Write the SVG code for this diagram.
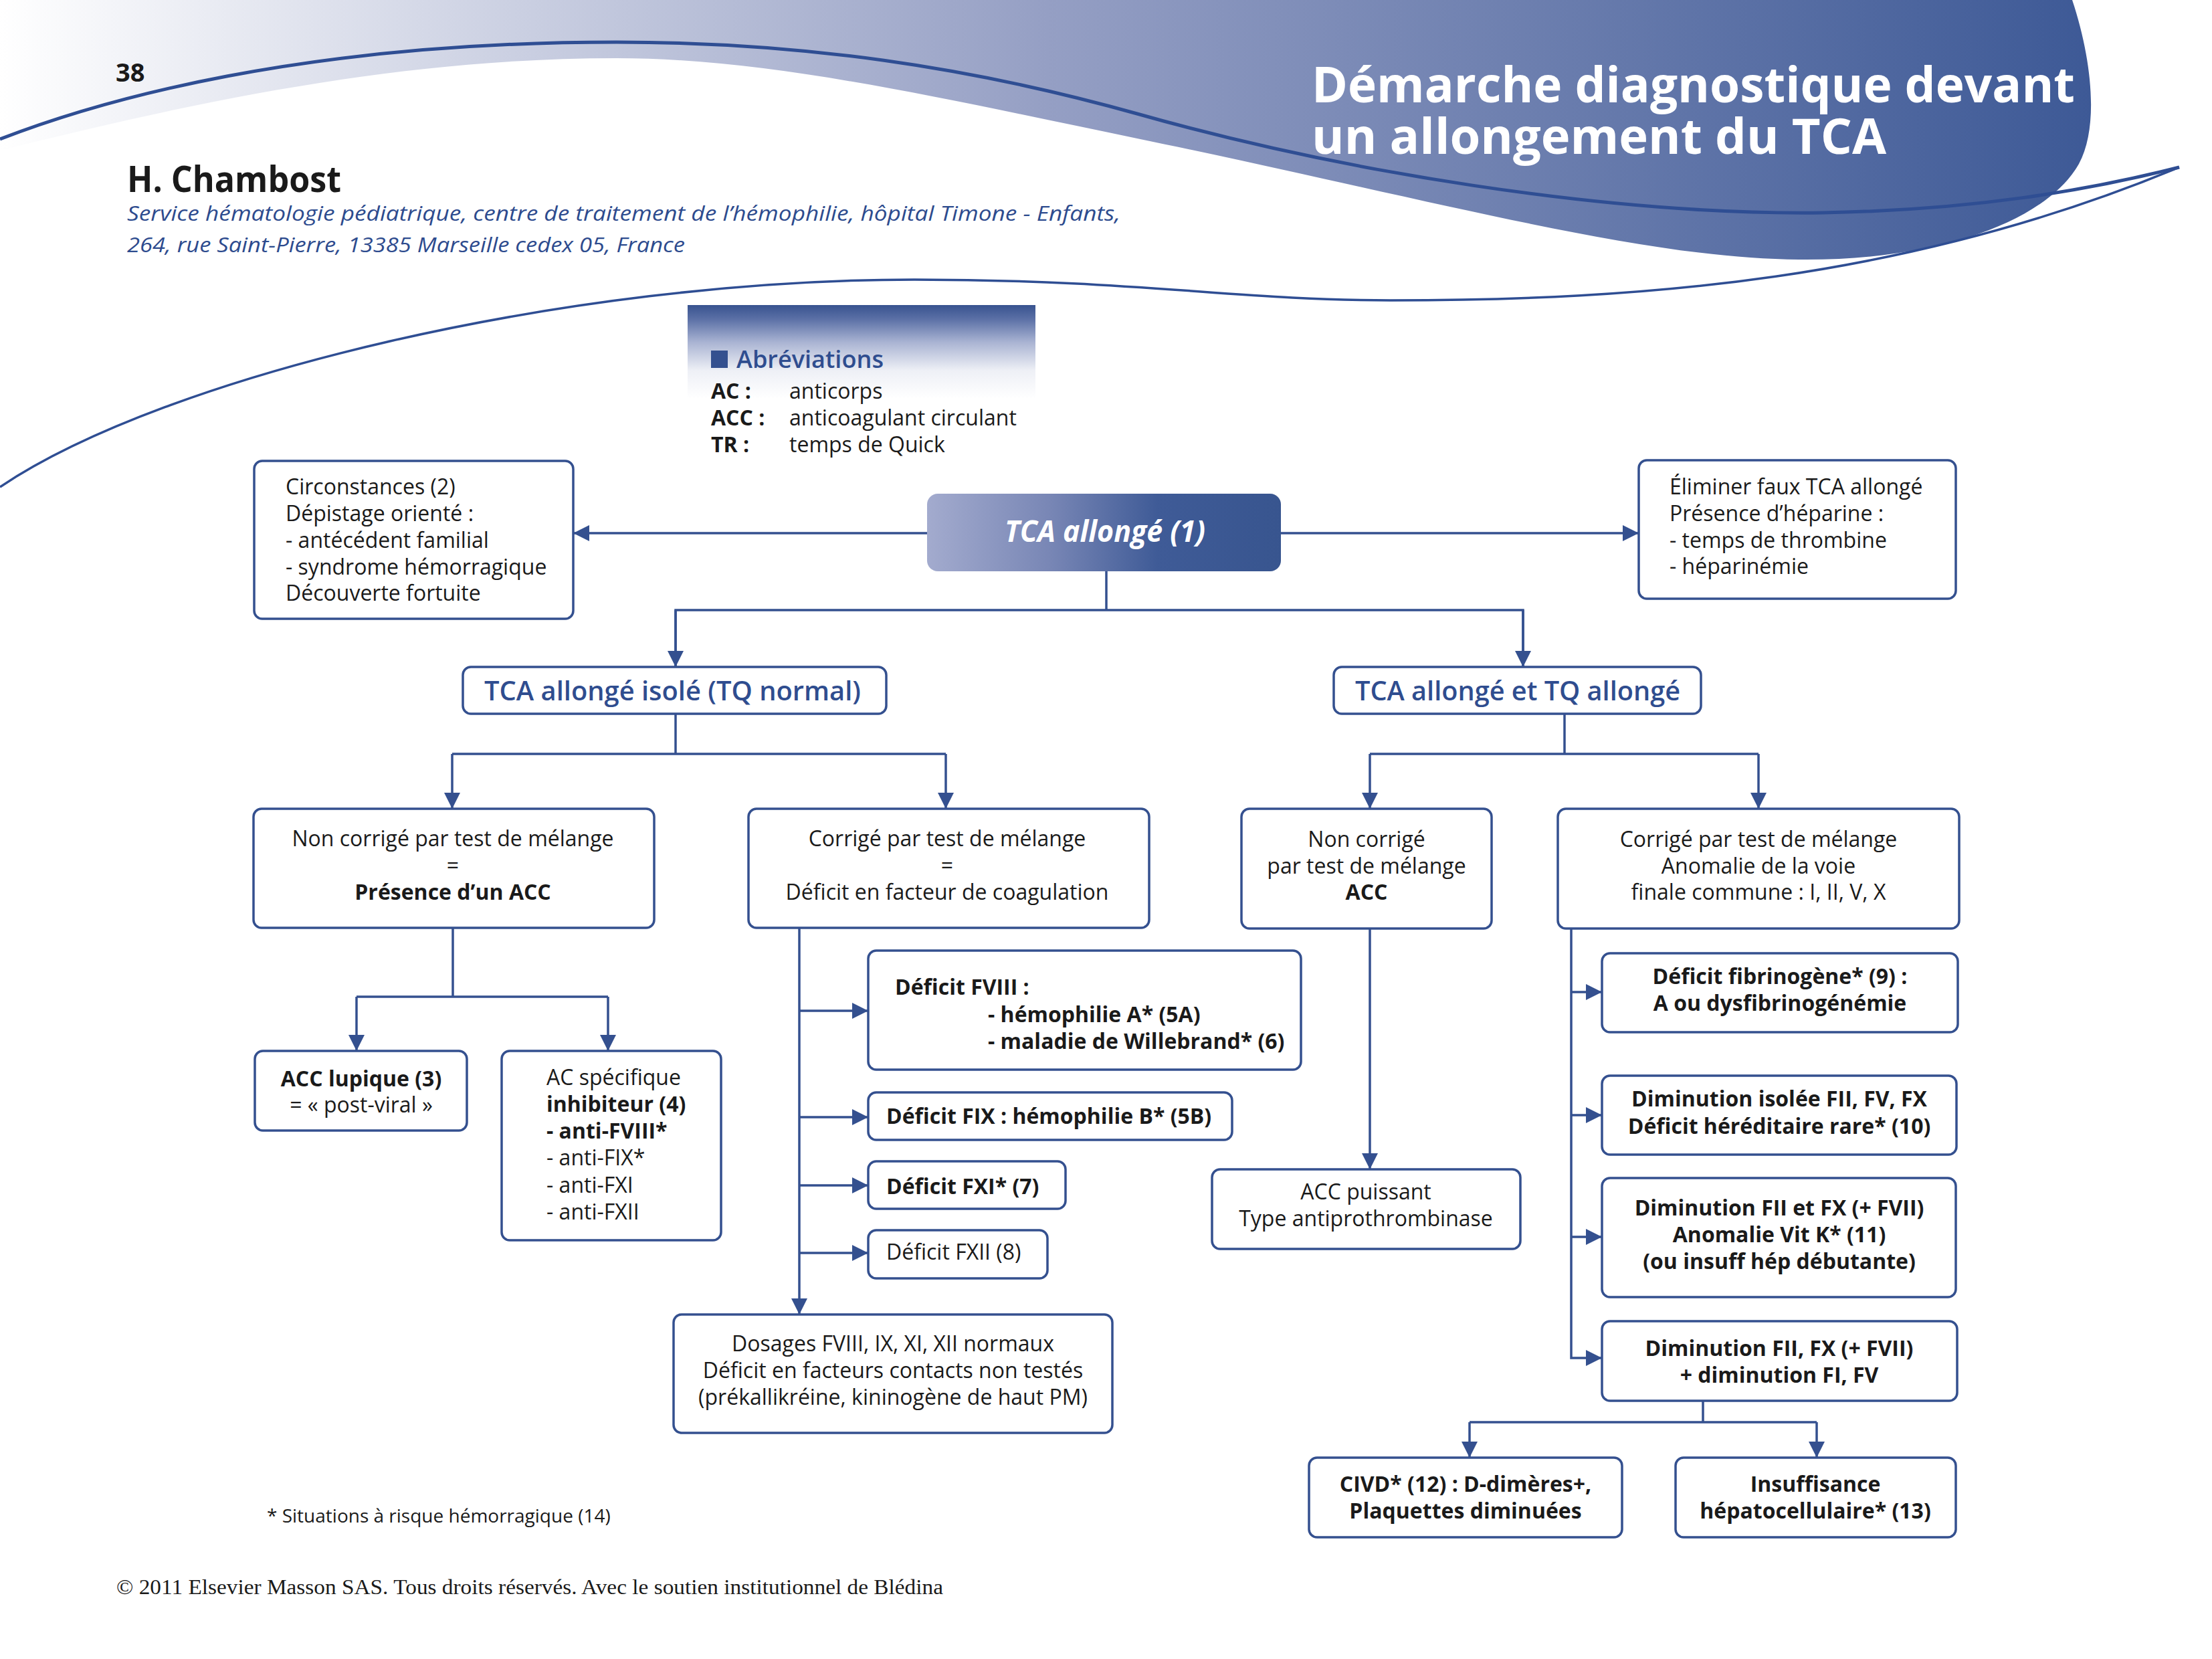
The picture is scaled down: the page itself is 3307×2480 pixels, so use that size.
<svg xmlns="http://www.w3.org/2000/svg" width="3307" height="2480" viewBox="0 0 3307 2480">
<defs>
<linearGradient id="gBlob" x1="0" y1="0" x2="3130" y2="0" gradientUnits="userSpaceOnUse">
<stop offset="0" stop-color="#ffffff"/>
<stop offset="0.5" stop-color="#959fc4"/>
<stop offset="1" stop-color="#3d5996"/>
</linearGradient>
<linearGradient id="gCenter" x1="0" y1="0" x2="1" y2="0">
<stop offset="0" stop-color="#a3abce"/>
<stop offset="0.35" stop-color="#7886b5"/>
<stop offset="0.65" stop-color="#3f5b97"/>
<stop offset="1" stop-color="#38558f"/>
</linearGradient>
<linearGradient id="gAbbr" x1="0" y1="0" x2="0" y2="1">
<stop offset="0" stop-color="#38538f"/>
<stop offset="0.15" stop-color="#5b70a6"/>
<stop offset="0.4" stop-color="#aab4d3"/>
<stop offset="0.7" stop-color="#eef0f6"/>
<stop offset="1" stop-color="#ffffff"/>
</linearGradient>
<marker id="ah" viewBox="0 0 24 24" refX="24" refY="12" markerWidth="24" markerHeight="24" orient="auto" markerUnits="userSpaceOnUse">
<path d="M0,0 L24,12 L0,24 z" fill="#34508f"/>
</marker>
<style>
.box{fill:#ffffff;stroke:#34508f;stroke-width:3.5}
.t{font-family:"Open Sans","Noto Sans","Liberation Sans",sans-serif;font-size:32px;fill:#1a1a1a}
.b{font-weight:700}
.c{text-anchor:middle}
.blue{fill:#2f4d8f}
.conn{stroke:#34508f;stroke-width:3.5;fill:none}
.arr{marker-end:url(#ah)}
</style>
</defs>

<g id="header">
<path d="M0,0 L3098,0 C3128,90 3138,190 3108,245 C3060,330 2900,390 2690,388 C2450,386 2150,300 1700,207 C1400,145 1150,87 922,87 C600,87 300,150 0,225 Z" fill="url(#gBlob)"/>
<path d="M0,208 C150,150 450,63 922,63 C1200,63 1450,100 1700,170 C2000,255 2400,322 2725,318 C2950,314 3120,285 3258,250" fill="none" stroke="#2f4e93" stroke-width="5"/>
<path d="M0,728 C250,560 850,418 1367,418 C1700,418 1850,449 2079,449 C2450,449 2850,420 3258,250" fill="none" stroke="#2f4e93" stroke-width="3.5"/>
<text class="t b" x="173" y="122" style="font-size:38px">38</text>
<text class="t b" style="font-size:74px;fill:#ffffff"><tspan x="1961" y="153" textLength="1141" lengthAdjust="spacingAndGlyphs">Démarche diagnostique devant</tspan><tspan x="1961" y="230" textLength="859" lengthAdjust="spacingAndGlyphs">un allongement du TCA</tspan></text>
<text class="t b" x="190" y="287" style="font-size:54px" textLength="320" lengthAdjust="spacingAndGlyphs">H. Chambost</text>
<text class="t" x="190" y="330" style="font-size:31px;font-style:italic;fill:#2d4b8e" textLength="1485" lengthAdjust="spacingAndGlyphs">Service hématologie pédiatrique, centre de traitement de l’hémophilie, hôpital Timone - Enfants,</text>
<text class="t" x="190" y="377" style="font-size:31px;font-style:italic;fill:#2d4b8e" textLength="834" lengthAdjust="spacingAndGlyphs">264, rue Saint-Pierre, 13385 Marseille cedex 05, France</text>
</g>

<g id="abbreviations">
<rect x="1028" y="456" width="520" height="140" fill="url(#gAbbr)"/>
<rect x="1063" y="524" width="25" height="26" fill="#34508f"/>
<text class="t blue" x="1101" y="550" style="font-size:36px;font-weight:600" textLength="220" lengthAdjust="spacingAndGlyphs">Abréviations</text>
<text class="t b" x="1063" y="596">AC :</text>
<text class="t" x="1180" y="596">anticorps</text>
<text class="t b" x="1063" y="636">ACC :</text>
<text class="t" x="1180" y="636">anticoagulant circulant</text>
<text class="t b" x="1063" y="676">TR :</text>
<text class="t" x="1180" y="676">temps de Quick</text>
</g>

<g id="connectors">
<line class="conn arr" x1="1386" y1="797" x2="857" y2="797"/>
<line class="conn arr" x1="1915" y1="797" x2="2450" y2="797"/>
<polyline class="conn" points="1654,854 1654,912"/>
<polyline class="conn" points="1010,997 1010,912 2277,912 2277,997"/>
<line class="conn arr" x1="1010" y1="912" x2="1010" y2="997"/>
<line class="conn arr" x1="2277" y1="912" x2="2277" y2="997"/>
<polyline class="conn" points="1010,1067 1010,1127"/>
<polyline class="conn" points="676,1127 1414,1127"/>
<line class="conn arr" x1="676" y1="1127" x2="676" y2="1209"/>
<line class="conn arr" x1="1414" y1="1127" x2="1414" y2="1209"/>
<polyline class="conn" points="2339,1067 2339,1127"/>
<polyline class="conn" points="2048,1127 2629,1127"/>
<line class="conn arr" x1="2048" y1="1127" x2="2048" y2="1209"/>
<line class="conn arr" x1="2629" y1="1127" x2="2629" y2="1209"/>
<polyline class="conn" points="677,1387 677,1490"/>
<polyline class="conn" points="533,1490 909,1490"/>
<line class="conn arr" x1="533" y1="1490" x2="533" y2="1571"/>
<line class="conn arr" x1="909" y1="1490" x2="909" y2="1571"/>
<line class="conn arr" x1="1195" y1="1387" x2="1195" y2="1965"/>
<line class="conn arr" x1="1195" y1="1511" x2="1298" y2="1511"/>
<line class="conn arr" x1="1195" y1="1670" x2="1298" y2="1670"/>
<line class="conn arr" x1="1195" y1="1772" x2="1298" y2="1772"/>
<line class="conn arr" x1="1195" y1="1873" x2="1298" y2="1873"/>
<line class="conn arr" x1="2048" y1="1388" x2="2048" y2="1748"/>
<polyline class="conn arr" points="2349,1388 2349,2030 2395,2030"/>
<line class="conn arr" x1="2349" y1="1483" x2="2395" y2="1483"/>
<line class="conn arr" x1="2349" y1="1667" x2="2395" y2="1667"/>
<line class="conn arr" x1="2349" y1="1849" x2="2395" y2="1849"/>
<polyline class="conn" points="2546,2094 2546,2126"/>
<polyline class="conn" points="2197,2126 2716,2126"/>
<line class="conn arr" x1="2197" y1="2126" x2="2197" y2="2179"/>
<line class="conn arr" x1="2716" y1="2126" x2="2716" y2="2179"/>
</g>

<g id="n-circonstances">
<rect class="box" x="380" y="689" width="477" height="236" rx="12"/>
<text class="t" x="427" y="739">Circonstances (2)</text>
<text class="t" x="427" y="779">Dépistage orienté :</text>
<text class="t" x="427" y="819">- antécédent familial</text>
<text class="t" x="427" y="859">- syndrome hémorragique</text>
<text class="t" x="427" y="898">Découverte fortuite</text>
</g>

<g id="n-tca">
<rect x="1386" y="738" width="529" height="116" rx="16" fill="url(#gCenter)"/>
<text class="t b" x="1502" y="810" style="font-size:44px;font-style:italic;fill:#ffffff" textLength="300" lengthAdjust="spacingAndGlyphs">TCA allongé (1)</text>
</g>

<g id="n-eliminer">
<rect class="box" x="2450" y="688" width="474" height="207" rx="12"/>
<text class="t" x="2496" y="739">Éliminer faux TCA allongé</text>
<text class="t" x="2496" y="779">Présence d’héparine :</text>
<text class="t" x="2496" y="819">- temps de thrombine</text>
<text class="t" x="2496" y="858">- héparinémie</text>
</g>

<g id="n-isole">
<rect class="box" x="692" y="997" width="633" height="70" rx="12"/>
<text class="t blue" x="724" y="1047" style="font-size:40px;font-weight:600" textLength="563" lengthAdjust="spacingAndGlyphs">TCA allongé isolé (TQ normal)</text>
</g>

<g id="n-tq">
<rect class="box" x="1994" y="997" width="549" height="70" rx="12"/>
<text class="t blue" x="2026" y="1047" style="font-size:40px;font-weight:600" textLength="486" lengthAdjust="spacingAndGlyphs">TCA allongé et TQ allongé</text>
</g>

<g id="n-noncorrige1">
<rect class="box" x="379" y="1209" width="599" height="178" rx="12"/>
<text class="t c" x="677" y="1265">Non corrigé par test de mélange</text>
<text class="t c" x="677" y="1305">=</text>
<text class="t b c" x="677" y="1345">Présence d’un ACC</text>
</g>

<g id="n-corrige1">
<rect class="box" x="1119" y="1209" width="599" height="178" rx="12"/>
<text class="t c" x="1416" y="1265">Corrigé par test de mélange</text>
<text class="t c" x="1416" y="1305">=</text>
<text class="t c" x="1416" y="1345">Déficit en facteur de coagulation</text>
</g>

<g id="n-noncorrige2">
<rect class="box" x="1856" y="1209" width="374" height="179" rx="12"/>
<text class="t c" x="2043" y="1266">Non corrigé</text>
<text class="t c" x="2043" y="1306">par test de mélange</text>
<text class="t b c" x="2043" y="1345">ACC</text>
</g>

<g id="n-corrige2">
<rect class="box" x="2329" y="1209" width="600" height="179" rx="12"/>
<text class="t c" x="2629" y="1266">Corrigé par test de mélange</text>
<text class="t c" x="2629" y="1306">Anomalie de la voie</text>
<text class="t c" x="2629" y="1345">finale commune : I, II, V, X</text>
</g>

<g id="n-lupique">
<rect class="box" x="381" y="1571" width="317" height="119" rx="12"/>
<text class="t b c" x="540" y="1624">ACC lupique (3)</text>
<text class="t c" x="540" y="1663">= « post-viral »</text>
</g>

<g id="n-acspec">
<rect class="box" x="750" y="1571" width="328" height="283" rx="12"/>
<text class="t" x="817" y="1622">AC spécifique</text>
<text class="t b" x="817" y="1662">inhibiteur (4)</text>
<text class="t b" x="817" y="1702">- anti-FVIII*</text>
<text class="t" x="817" y="1742">- anti-FIX*</text>
<text class="t" x="817" y="1783">- anti-FXI</text>
<text class="t" x="817" y="1823">- anti-FXII</text>
</g>

<g id="n-fviii">
<rect class="box" x="1298" y="1421" width="647" height="178" rx="12"/>
<text class="t b" x="1338" y="1487">Déficit FVIII :</text>
<text class="t b" x="1477" y="1528">- hémophilie A* (5A)</text>
<text class="t b" x="1477" y="1568">- maladie de Willebrand* (6)</text>
</g>

<g id="n-fix">
<rect class="box" x="1298" y="1633" width="544" height="71" rx="12"/>
<text class="t b" x="1325" y="1680">Déficit FIX : hémophilie B* (5B)</text>
</g>

<g id="n-fxi">
<rect class="box" x="1298" y="1736" width="295" height="71" rx="12"/>
<text class="t b" x="1325" y="1785">Déficit FXI* (7)</text>
</g>

<g id="n-fxii">
<rect class="box" x="1298" y="1839" width="268" height="72" rx="12"/>
<text class="t" x="1325" y="1883">Déficit FXII (8)</text>
</g>

<g id="n-dosages">
<rect class="box" x="1007" y="1965" width="656" height="177" rx="12"/>
<text class="t c" x="1335" y="2020">Dosages FVIII, IX, XI, XII normaux</text>
<text class="t c" x="1335" y="2060">Déficit en facteurs contacts non testés</text>
<text class="t c" x="1335" y="2100">(prékallikréine, kininogène de haut PM)</text>
</g>

<g id="n-accpuissant">
<rect class="box" x="1812" y="1748" width="461" height="119" rx="12"/>
<text class="t c" x="2042" y="1793">ACC puissant</text>
<text class="t c" x="2042" y="1833">Type antiprothrombinase</text>
</g>

<g id="n-fibrinogene">
<rect class="box" x="2395" y="1425" width="532" height="118" rx="12"/>
<text class="t b c" x="2661" y="1471">Déficit fibrinogène* (9) :</text>
<text class="t b c" x="2661" y="1511">A ou dysfibrinogénémie</text>
</g>

<g id="n-isolee">
<rect class="box" x="2395" y="1608" width="530" height="118" rx="12"/>
<text class="t b c" x="2660" y="1654">Diminution isolée FII, FV, FX</text>
<text class="t b c" x="2660" y="1695">Déficit héréditaire rare* (10)</text>
</g>

<g id="n-vitk">
<rect class="box" x="2395" y="1761" width="529" height="178" rx="12"/>
<text class="t b c" x="2660" y="1817">Diminution FII et FX (+ FVII)</text>
<text class="t b c" x="2660" y="1857">Anomalie Vit K* (11)</text>
<text class="t b c" x="2660" y="1897">(ou insuff hép débutante)</text>
</g>

<g id="n-fifv">
<rect class="box" x="2395" y="1975" width="531" height="119" rx="12"/>
<text class="t b c" x="2660" y="2027">Diminution FII, FX (+ FVII)</text>
<text class="t b c" x="2660" y="2067">+ diminution FI, FV</text>
</g>

<g id="n-civd">
<rect class="box" x="1957" y="2179" width="468" height="119" rx="12"/>
<text class="t b c" x="2191" y="2230">CIVD* (12) : D-dimères+,</text>
<text class="t b c" x="2191" y="2270">Plaquettes diminuées</text>
</g>

<g id="n-hepato">
<rect class="box" x="2505" y="2179" width="419" height="119" rx="12"/>
<text class="t b c" x="2714" y="2230">Insuffisance</text>
<text class="t b c" x="2714" y="2270">hépatocellulaire* (13)</text>
</g>

<g id="footer">
<text class="t" x="399" y="2276" style="font-size:28px">* Situations à risque hémorragique (14)</text>
<text x="174" y="2383" style="font-family:'Liberation Serif','Times New Roman',serif;font-size:31px;fill:#1a1a1a" textLength="1236" lengthAdjust="spacingAndGlyphs">© 2011 Elsevier Masson SAS. Tous droits réservés. Avec le soutien institutionnel de Blédina</text>
</g>
</svg>
